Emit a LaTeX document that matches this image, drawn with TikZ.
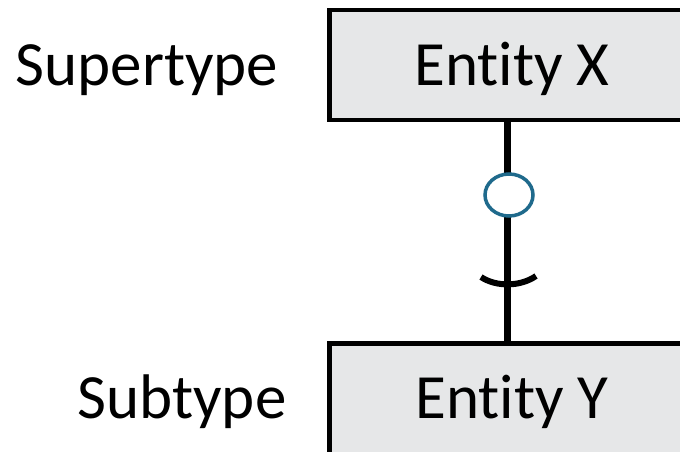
\documentclass[tikz,border=0pt]{standalone}
\usepackage{fontspec}
\setmainfont{Carlito}[Ligatures={NoCommon}]
\usetikzlibrary{shapes.geometric}
\definecolor{boxfill}{HTML}{E6E7E8}
\definecolor{ringblue}{HTML}{1F6A8C}
\tikzset{
  entity/.style={draw=black, line width=4.5pt, fill=boxfill, inner sep=0pt,
    minimum width=365pt, font=\fontsize{63}{75}\selectfont, text height=40pt},
  role/.style={inner sep=0pt, font=\fontsize{63}{75}\selectfont, anchor=base},
  conn/.style={line width=7.5pt},
  ring/.style={ellipse, draw=ringblue, line width=3.5pt, fill=white,
    minimum width=48pt, minimum height=42pt, inner sep=0pt},
  subarc/.style={line width=6pt}
}
\begin{document}
\begin{tikzpicture}[x=1pt,y=-1pt]
\clip (0,0) rectangle (680,452);
\fill[white] (0,0) rectangle (680,452);
\node[entity, text depth=0pt, minimum height=110pt] (boxX) at (512,65) {Entity X};
\node[entity, text depth=21pt, minimum height=130pt] (boxY) at (512,408.5) {Entity Y};
\node[role] (super) at (147,85) {Supertype};
\node[role] (sub) at (182,418) {Subtype};
\coordinate (axis) at (507.5,200);
\draw[conn] (boxX.south -| axis) -- (boxY.north -| axis);
\node[ring] (ring) at (509,195) {};
\coordinate (arcmid) at (508,284);
\draw[subarc] ([shift={(-27,-7)}]arcmid) .. controls ([shift={(-12,3)}]arcmid) and ([shift={(12,3)}]arcmid) .. ([shift={(28,-8)}]arcmid);
\end{tikzpicture}
\end{document}
